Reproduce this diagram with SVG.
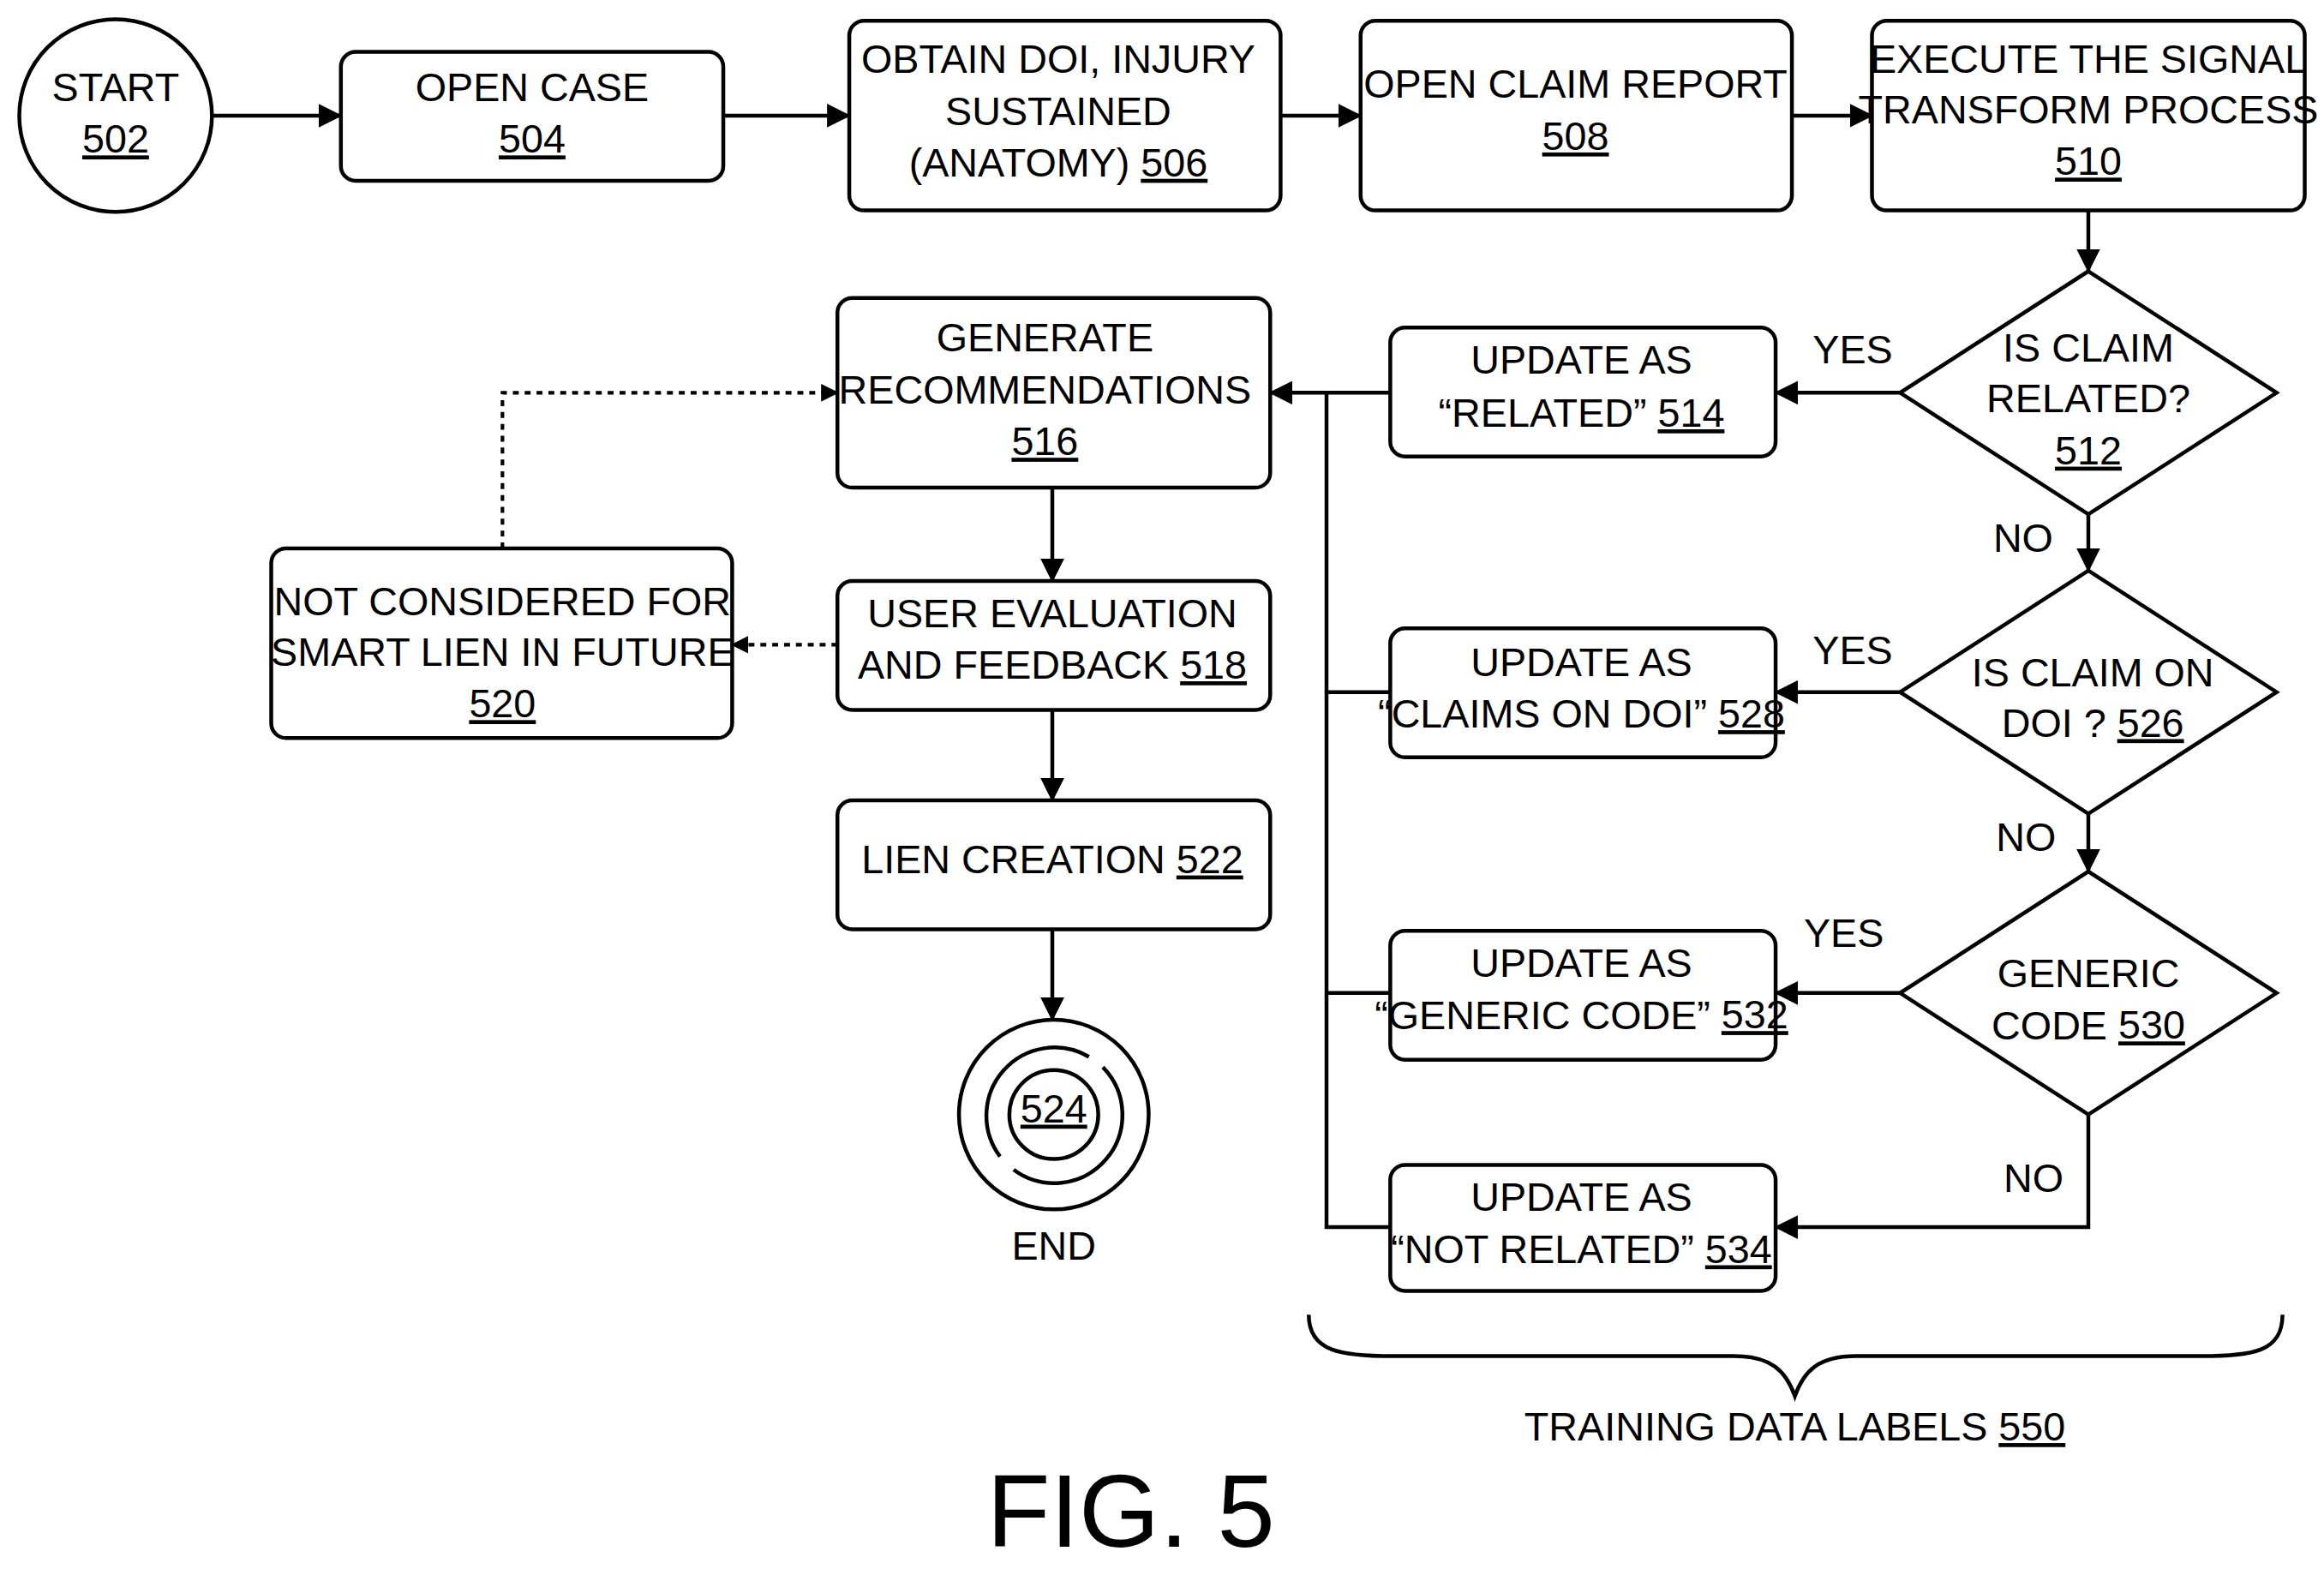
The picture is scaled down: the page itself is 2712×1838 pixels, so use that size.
<svg xmlns="http://www.w3.org/2000/svg" width="2712" height="1838" viewBox="0 0 2712 1838">
<style>
.b{fill:#fff;stroke:#000;stroke-width:2.6}
.l{fill:none;stroke:#000;stroke-width:2.6}
.d{fill:none;stroke:#000;stroke-width:2.4;stroke-dasharray:4 4}
text{font-family:"Liberation Sans Narrow","Liberation Sans",Arial,sans-serif;font-size:27px;text-anchor:middle;dominant-baseline:middle;fill:#000}
.u{text-decoration:underline}
</style>
<defs>
<marker id="a" markerWidth="16" markerHeight="16" refX="15" refY="8" orient="auto" markerUnits="userSpaceOnUse"><path d="M0,0 L16,8 L0,16 Z" fill="#000"/></marker>
<marker id="as" markerWidth="12" markerHeight="12" refX="11" refY="6" orient="auto" markerUnits="userSpaceOnUse"><path d="M0,0 L12,6 L0,12 Z" fill="#000"/></marker>
</defs>
<rect width="2712" height="1838" fill="#fff"/>
<g transform="scale(1.7296)">
<g id="connectors">
<path class="l" d="M144,78H230" marker-end="url(#a)"/>
<path class="l" d="M488,78H573" marker-end="url(#a)"/>
<path class="l" d="M864,78H918" marker-end="url(#a)"/>
<path class="l" d="M1209,78H1263" marker-end="url(#a)"/>
<path class="l" d="M1409,142V183" marker-end="url(#a)"/>
<path class="l" d="M1409,347V385" marker-end="url(#a)"/>
<path class="l" d="M1409,549V588" marker-end="url(#a)"/>
<path class="l" d="M1282,265H1198" marker-end="url(#a)"/>
<path class="l" d="M1282,467H1198" marker-end="url(#a)"/>
<path class="l" d="M1282,670H1198" marker-end="url(#a)"/>
<path class="l" d="M1409,752V828H1198" marker-end="url(#a)"/>
<path class="l" d="M938,467H895M938,670H895M938,828H895V265"/>
<path class="l" d="M938,265H857" marker-end="url(#a)"/>
<path class="l" d="M710,329V392" marker-end="url(#a)"/>
<path class="l" d="M710,479V540" marker-end="url(#a)"/>
<path class="l" d="M710,627V688" marker-end="url(#a)"/>
<path class="d" d="M565,435H494" marker-end="url(#as)"/>
<path class="d" d="M339,370V265H565" marker-end="url(#as)"/>
<text x="1250" y="238">YES</text>
<text x="1250" y="441">YES</text>
<text x="1244" y="632">YES</text>
<text x="1365" y="365">NO</text>
<text x="1367" y="567">NO</text>
<text x="1372" y="797">NO</text>
</g>
<g id="n502"><circle class="b" cx="78" cy="78" r="65"/><text x="78" y="61">START</text><text x="78" y="96" class="u">502</text></g>
<g id="n504"><rect class="b" x="230" y="35" width="258" height="87" rx="10"/><text x="359" y="61">OPEN CASE</text><text x="359" y="96" class="u">504</text></g>
<g id="n506"><rect class="b" x="573" y="14" width="291" height="128" rx="10"/><text x="714" y="42">OBTAIN DOI, INJURY</text><text x="714" y="77">SUSTAINED</text><text x="714" y="112">(ANATOMY) <tspan class="u">506</tspan></text></g>
<g id="n508"><rect class="b" x="918" y="14" width="291" height="128" rx="10"/><text x="1063" y="59">OPEN CLAIM REPORT</text><text x="1063" y="94" class="u">508</text></g>
<g id="n510"><rect class="b" x="1263" y="14" width="292" height="128" rx="10"/><text x="1409" y="42">EXECUTE THE SIGNAL</text><text x="1409" y="76">TRANSFORM PROCESS</text><text x="1409" y="111" class="u">510</text></g>
<g id="n512"><path class="b" d="M1409,183L1536,265L1409,347L1282,265Z"/><text x="1409" y="237">IS CLAIM</text><text x="1409" y="271">RELATED?</text><text x="1409" y="306" class="u">512</text></g>
<g id="n526"><path class="b" d="M1409,385L1536,467L1409,549L1282,467Z"/><text x="1412" y="456">IS CLAIM ON</text><text x="1412" y="490">DOI ? <tspan class="u">526</tspan></text></g>
<g id="n530"><path class="b" d="M1409,588L1536,670L1409,752L1282,670Z"/><text x="1409" y="659">GENERIC</text><text x="1409" y="694">CODE <tspan class="u">530</tspan></text></g>
<g id="n514"><rect class="b" x="938" y="221" width="260" height="87" rx="10"/><text x="1067" y="245">UPDATE AS</text><text x="1067" y="281">“RELATED” <tspan class="u">514</tspan></text></g>
<g id="n528"><rect class="b" x="938" y="424" width="260" height="87" rx="10"/><text x="1067" y="449">UPDATE AS</text><text x="1067" y="484">“CLAIMS ON DOI” <tspan class="u">528</tspan></text></g>
<g id="n532"><rect class="b" x="938" y="628" width="260" height="87" rx="10"/><text x="1067" y="652">UPDATE AS</text><text x="1067" y="687">“GENERIC CODE” <tspan class="u">532</tspan></text></g>
<g id="n534"><rect class="b" x="938" y="786" width="260" height="85" rx="10"/><text x="1067" y="810">UPDATE AS</text><text x="1067" y="845">“NOT RELATED” <tspan class="u">534</tspan></text></g>
<g id="n516"><rect class="b" x="565" y="201" width="292" height="128" rx="10"/><text x="705" y="230">GENERATE</text><text x="705" y="265">RECOMMENDATIONS</text><text x="705" y="300" class="u">516</text></g>
<g id="n518"><rect class="b" x="565" y="392" width="292" height="87" rx="10"/><text x="710" y="416">USER EVALUATION</text><text x="710" y="451">AND FEEDBACK <tspan class="u">518</tspan></text></g>
<g id="n520"><rect class="b" x="183" y="370" width="311" height="128" rx="10"/><text x="339" y="408">NOT CONSIDERED FOR</text><text x="339" y="442">SMART LIEN IN FUTURE</text><text x="339" y="477" class="u">520</text></g>
<g id="n522"><rect class="b" x="565" y="540" width="292" height="87" rx="10"/><text x="710" y="582">LIEN CREATION <tspan class="u">522</tspan></text></g>
<g id="n524">
<circle class="b" cx="711" cy="752" r="64"/>
<circle class="l" cx="711" cy="752" r="30"/>
<path class="l" d="M744.1,720.0A46,46 0 0 1 683.9,789.2M674.7,780.3A46,46 0 0 1 734.7,713.0"/>
<text x="711" y="750" class="u">524</text>
<text x="711" y="843">END</text>
</g>
<g id="n550">
<path class="l" d="M883,887C883,912 905,915 940,915H1170C1195,915 1205,925 1211,942C1217,925 1227,915 1252,915H1485C1520,915 1540,912 1540,887"/>
<text x="1211" y="965">TRAINING DATA LABELS <tspan class="u">550</tspan></text>
</g>
<text x="763" y="1025" style="font-size:70px">FIG. 5</text>
</g>
</svg>
